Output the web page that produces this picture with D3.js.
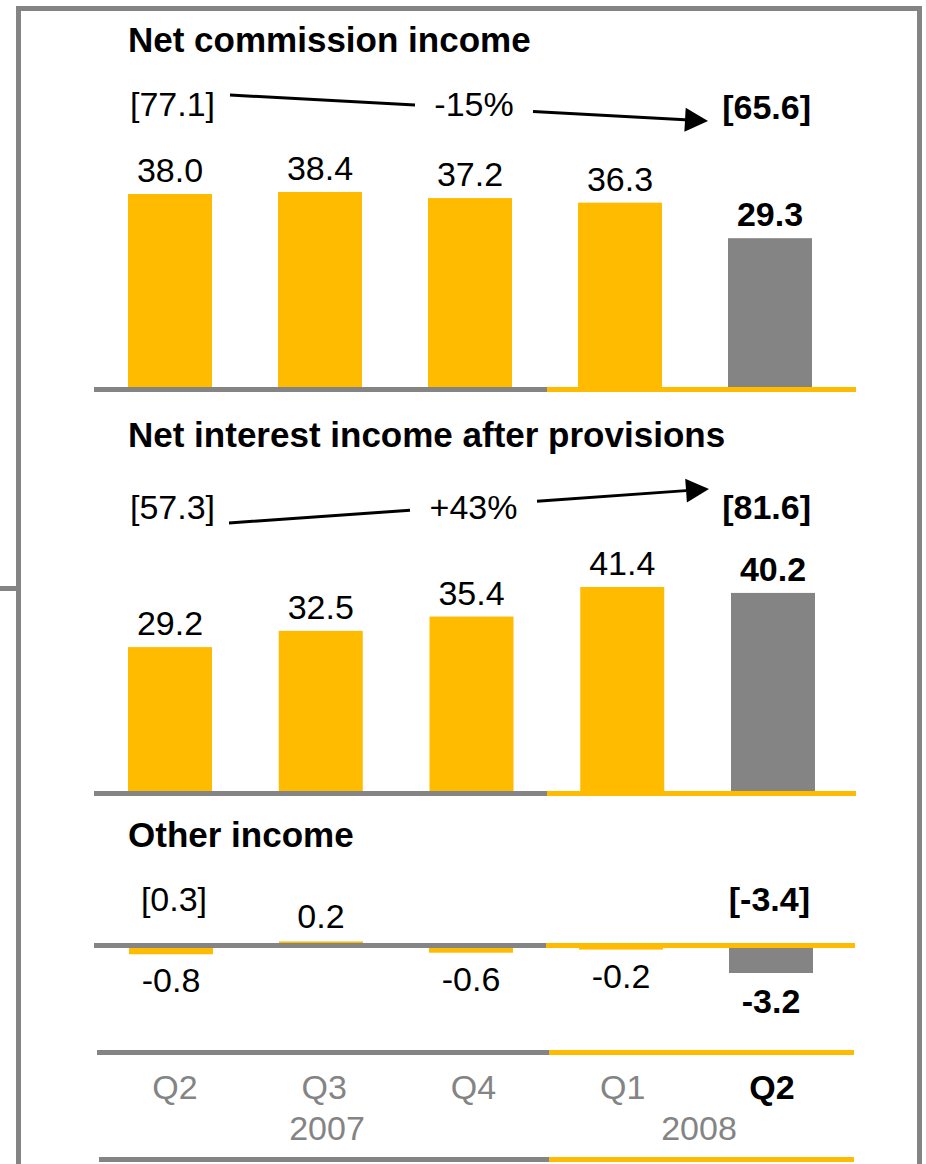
<!DOCTYPE html>
<html>
<head>
<meta charset="utf-8">
<script src="https://cdn.jsdelivr.net/npm/d3@7"></script>
<style>
    html, body { margin: 0; padding: 0; background: #fff; }
    svg { display: block; }
    text { font-family: "Liberation Sans", Arial, sans-serif; }
</style>
</head>
<body>
<svg id="viz"></svg>
<script>
(function () {
    // chart values
    let quarters = ['Q2', 'Q3', 'Q4', 'Q1', 'Q2']
    let years = ['2007', '2008']
    let commission = [38.0, 38.4, 37.2, 36.3, 29.3]
    let interest = [29.2, 32.5, 35.4, 41.4, 40.2]
    let other = [-0.8, 0.2, -0.6, -0.2, -3.2]
    // half year totals [H1 2007, H1 2008] and change
    let commissionH1 = [77.1, 65.6]
    let commissionChange = '-15%'
    let interestH1 = [57.3, 81.6]
    let interestChange = '+43%'
    let otherH1 = [0.3, -3.4]

    let yellow = '#ffbb00'
    let gray = '#848484'
    let fontSize = 34
    let titleSize = 35
    let barWidth = 84

    let svg = d3.select('#viz').attr('width', 926).attr('height', 1164)

    // frame
    svg.append('path')
        .attr('d', 'M18.5,1164 V8.5 H919.5 V1164')
        .attr('fill', 'none')
        .attr('stroke', gray)
        .attr('stroke-width', 5)
    svg.append('line')
        .attr('x1', 0).attr('x2', 18)
        .attr('y1', 588.5).attr('y2', 588.5)
        .attr('stroke', gray).attr('stroke-width', 5)

    function splitLine(y, x1, xm, x2) {
        svg.append('line').attr('x1', x1).attr('x2', xm).attr('y1', y).attr('y2', y)
            .attr('stroke', gray).attr('stroke-width', 5)
        svg.append('line').attr('x1', xm).attr('x2', x2).attr('y1', y).attr('y2', y)
            .attr('stroke', yellow).attr('stroke-width', 5)
    }

    function label(x, y, txt, bold, anchor, color, size) {
        return svg.append('text')
            .attr('x', x).attr('y', y)
            .attr('text-anchor', anchor || 'middle')
            .attr('font-size', size || fontSize)
            .attr('font-weight', bold ? 'bold' : 'normal')
            .attr('fill', color || '#000')
            .text(txt)
    }

    function arrow(p0, p1, gapFrom, gapTo, changeText, textY) {
        // straight line from p0 to p1 with a gap for the change text
        let dx = p1[0] - p0[0], dy = p1[1] - p0[1]
        let len = Math.sqrt(dx * dx + dy * dy)
        let ux = dx / len, uy = dy / len
        let at = x => [x, p0[1] + (x - p0[0]) * dy / dx]
        let headLen = 23, headW = 12
        let base = [p1[0] - ux * headLen, p1[1] - uy * headLen]
        svg.append('path')
            .attr('d', d3.line()([p0, at(gapFrom)]) + d3.line()([at(gapTo), base]))
            .attr('stroke', '#000').attr('stroke-width', 3).attr('fill', 'none')
        svg.append('path')
            .attr('d', d3.line()([p1,
                [base[0] - uy * headW, base[1] + ux * headW],
                [base[0] + uy * headW, base[1] - ux * headW]]) + 'Z')
            .attr('fill', '#000')
        label((gapFrom + gapTo) / 2, textY, changeText)
    }

    function barPanel(opts) {
        let x = d3.scalePoint().domain(d3.range(quarters.length)).range(opts.xRange)
        let y = d3.scaleLinear().domain([0, opts.top]).range([opts.base, opts.topY])
        label(128, opts.titleY, opts.title, true, 'start', '#000', titleSize)
        opts.values.forEach((v, i) => {
            let last = i === opts.values.length - 1
            svg.append('rect')
                .attr('x', x(i) - barWidth / 2)
                .attr('width', barWidth)
                .attr('y', y(v))
                .attr('height', y(0) - y(v))
                .attr('fill', last ? gray : yellow)
            label(x(i), y(v) - 12, v.toFixed(1), last)
        })
        splitLine(opts.base + 2.5, 94, 547, 856)
        label(130, opts.noteY, '[' + opts.h1[0].toFixed(1) + ']', false, 'start')
        label(811, opts.noteY2, '[' + opts.h1[1].toFixed(1) + ']', true, 'end')
        arrow(opts.arrowFrom, opts.arrowTo, opts.gap[0], opts.gap[1], opts.change, opts.noteY)
    }

    barPanel({
        title: 'Net commission income', titleY: 52,
        values: commission, top: 38.0, base: 387, topY: 194, xRange: [170, 770],
        h1: commissionH1, change: commissionChange, noteY: 116, noteY2: 119,
        arrowFrom: [230, 95], arrowTo: [708, 121], gap: [415, 533]
    })
    barPanel({
        title: 'Net interest income after provisions', titleY: 447,
        values: interest, top: 41.4, base: 791, topY: 587, xRange: [170, 773],
        h1: interestH1, change: interestChange, noteY: 519, noteY2: 519,
        arrowFrom: [229, 523], arrowTo: [709, 489], gap: [410, 537]
    })

    // other income
    let x3 = d3.scalePoint().domain(d3.range(quarters.length)).range([171, 771])
    let y3 = d3.scaleLinear().domain([0, 3.2]).range([0, 25])
    let zeroTop = 943, zeroBottom = 948
    label(128, 847, 'Other income', true, 'start', '#000', titleSize)
    other.forEach((v, i) => {
        let last = i === other.length - 1
        let h = y3(Math.abs(v))
        svg.append('rect')
            .attr('x', x3(i) - barWidth / 2)
            .attr('width', barWidth)
            .attr('y', v >= 0 ? zeroTop - h : zeroBottom)
            .attr('height', h)
            .attr('fill', last ? gray : yellow)
        let ty = v >= 0 ? zeroTop - h - 13 : zeroBottom + h + (last ? 40 : 38)
        label(x3(i), ty, v.toFixed(1), last)
    })
    splitLine(945.5, 94, 546, 855)
    label(x3(0) + 3, 911, '[' + otherH1[0].toFixed(1) + ']')
    label(810, 911, '[' + otherH1[1].toFixed(1) + ']', true, 'end')

    // category axis
    let xa = d3.scalePoint().domain(d3.range(quarters.length)).range([175, 772])
    splitLine(1052.5, 97, 549, 854)
    quarters.forEach((q, i) => {
        let last = i === quarters.length - 1
        label(xa(i), 1099, q, last, 'middle', last ? '#000' : gray)
    })
    label(327, 1140, years[0], false, 'middle', gray)
    label(699, 1140, years[1], false, 'middle', gray)
    splitLine(1159.5, 99, 549, 854)
})()
</script>
</body>
</html>
